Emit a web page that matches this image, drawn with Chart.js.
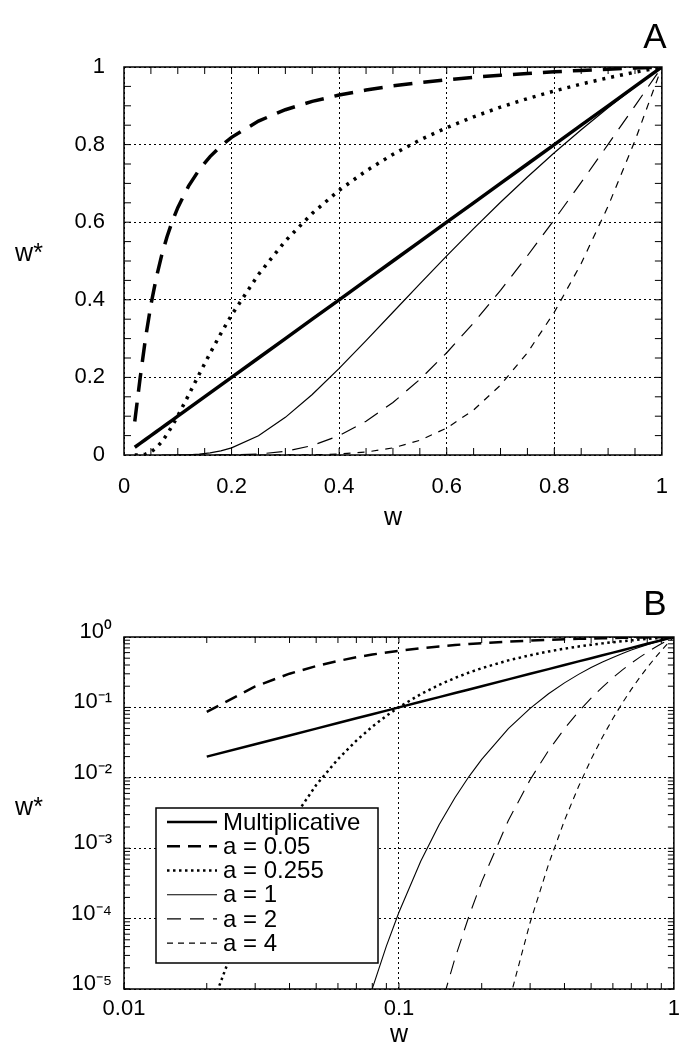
<!DOCTYPE html>
<html>
<head>
<meta charset="utf-8">
<script src="https://cdn.jsdelivr.net/npm/chart.js@4"></script>
<style>
  body { margin: 0; background: #fff; }
  #wrapA { position: absolute; left: 0; top: 0; width: 687px; height: 545px; }
  #wrapB { position: absolute; left: 0; top: 545px; width: 687px; height: 505px; }
</style>
</head>
<body>
<div id="wrapA"><canvas id="chartA"></canvas></div>
<div id="wrapB"><canvas id="chartB"></canvas></div>
<script>
const FONT = '"Liberation Sans", Arial, Helvetica, sans-serif';

// w values shared by every curve
const wValues = [0.02, 0.03, 0.04, 0.05, 0.06, 0.07, 0.08, 0.09, 0.1, 0.12, 0.14, 0.16, 0.18, 0.2,
  0.25, 0.3, 0.35, 0.4, 0.45, 0.5, 0.55, 0.6, 0.65, 0.7, 0.75, 0.8, 0.85, 0.9, 0.95, 1];

// w*
const multiplicative = [0.02, 0.03, 0.04, 0.05, 0.06, 0.07, 0.08, 0.09, 0.1, 0.12, 0.14, 0.16, 0.18, 0.2,
  0.25, 0.3, 0.35, 0.4, 0.45, 0.5, 0.55, 0.6, 0.65, 0.7, 0.75, 0.8, 0.85, 0.9, 0.95, 1];
const a005 = [0.0863, 0.1985, 0.3012, 0.3867, 0.4569, 0.5146, 0.5627, 0.6032, 0.6376, 0.693, 0.7356, 0.7691,
  0.7963, 0.8187, 0.8607, 0.8899, 0.9113, 0.9277, 0.9407, 0.9512, 0.9599, 0.9672, 0.9735, 0.9788, 0.9835,
  0.9876, 0.9912, 0.9945, 0.9974, 1];
const a0255 = [3.7e-6, 2.6e-4, 2.2e-3, 7.9e-3, 0.0184, 0.0338, 0.0533, 0.0759, 0.1008, 0.1541, 0.2088, 0.2622,
  0.313, 0.3606, 0.4653, 0.5516, 0.6228, 0.6822, 0.7322, 0.7749, 0.8117, 0.8437, 0.8717, 0.8965, 0.9185,
  0.9382, 0.956, 0.9721, 0.9867, 1];
const a1 = [null, null, null, null, null, 1.7e-6, 1.01e-5, 4.06e-5, 1.23e-4, 6.53e-4, 2.15e-3, 5.25e-3,
  0.0105, 0.0183, 0.0498, 0.097, 0.1561, 0.2231, 0.2946, 0.3679, 0.4412, 0.5134, 0.5836, 0.6514, 0.7165,
  0.7788, 0.8382, 0.8948, 0.9487, 1];
const a2 = [null, null, null, null, null, null, null, null, null, 4.3e-7, 4.6e-6, 2.75e-5, 1.1e-4, 3.35e-4,
  2.48e-3, 9.4e-3, 0.0244, 0.0498, 0.0868, 0.1353, 0.1947, 0.2636, 0.3406, 0.4244, 0.5134, 0.6065, 0.7026,
  0.8007, 0.9, 1];
const a4 = [null, null, null, null, null, null, null, null, null, null, null, null, null, 1.1e-7, 6.1e-6,
  8.8e-5, 5.9e-4, 2.48e-3, 7.5e-3, 0.0183, 0.0379, 0.0695, 0.116, 0.1801, 0.2636, 0.3679, 0.4936, 0.6412,
  0.81, 1];

const seriesLabels = ['Multiplicative', 'a = 0.05', 'a = 0.255', 'a = 1', 'a = 2', 'a = 4'];
const seriesValues = [multiplicative, a005, a0255, a1, a2, a4];

const xTicksA = [0, 0.2, 0.4, 0.6, 0.8, 1];
const yTicksA = [0, 0.2, 0.4, 0.6, 0.8, 1];
const xTicksB = [0.01, 0.1, 1];
const yTicksB = [1e-5, 1e-4, 1e-3, 1e-2, 1e-1, 1];

function buildDatasets(widths, dashes) {
  return seriesValues.map((vals, i) => ({
    label: seriesLabels[i],
    data: wValues.map((w, j) => ({ x: w, y: vals[j] })),
    borderColor: '#000',
    borderWidth: widths[i],
    borderDash: dashes[i],
    borderCapStyle: 'butt',
    pointRadius: 0,
    tension: 0,
    fill: false
  }));
}

const SUP = { '0': '\u2070', '1': '\u00b9', '2': '\u00b2', '3': '\u00b3', '4': '\u2074', '5': '\u2075', '-': '\u207b' };
function powerLabel(v) {
  const e = String(Math.round(Math.log10(v)));
  return '10' + e.split('').map(c => SUP[c]).join('');
}

// frame, inward minor ticks, panel letter and the horizontal y title
const framePlugin = {
  id: 'frame',
  afterDatasetsDraw(chart, args, o) {
    const { ctx, chartArea: a, scales: { x, y } } = chart;
    ctx.save();
    ctx.setLineDash([]);
    ctx.strokeStyle = '#000';
    ctx.lineWidth = 1;
    ctx.beginPath();
    o.xMinor.forEach(v => {
      const px = x.getPixelForValue(v);
      ctx.moveTo(px, a.bottom); ctx.lineTo(px, a.bottom - o.tick);
      ctx.moveTo(px, a.top); ctx.lineTo(px, a.top + o.tick);
    });
    o.yMinor.forEach(v => {
      const py = y.getPixelForValue(v);
      ctx.moveTo(a.left, py); ctx.lineTo(a.left + o.tick, py);
      ctx.moveTo(a.right, py); ctx.lineTo(a.right - o.tick, py);
    });
    ctx.stroke();
    ctx.lineWidth = 1.5;
    ctx.strokeRect(a.left, a.top, a.right - a.left, a.bottom - a.top);
    ctx.fillStyle = '#000';
    ctx.textAlign = 'center';
    ctx.textBaseline = 'middle';
    ctx.font = '35px ' + FONT;
    ctx.fillText(o.letter, o.letterX, o.letterY);
    ctx.font = '25px ' + FONT;
    ctx.fillText('w*', o.yTitleX, o.yTitleY);
    ctx.restore();
  }
};

// boxed legend drawn inside the log panel
const boxLegend = {
  id: 'boxLegend',
  afterDraw(chart, args, o) {
    const { ctx, chartArea: a } = chart;
    const x0 = a.left + o.dx, y0 = a.top + o.dy;
    ctx.save();
    ctx.fillStyle = '#fff';
    ctx.fillRect(x0, y0, o.w, o.h);
    ctx.strokeStyle = '#000';
    ctx.lineWidth = 1.5;
    ctx.setLineDash([]);
    ctx.strokeRect(x0, y0, o.w, o.h);
    ctx.font = '24px ' + FONT;
    ctx.textBaseline = 'middle';
    ctx.textAlign = 'left';
    ctx.fillStyle = '#000';
    chart.data.datasets.forEach((ds, i) => {
      const cy = y0 + o.pad + o.row * (i + 0.5);
      ctx.setLineDash(ds.borderDash || []);
      ctx.lineWidth = ds.borderWidth;
      ctx.beginPath();
      ctx.moveTo(x0 + 11, cy);
      ctx.lineTo(x0 + 61, cy);
      ctx.stroke();
      ctx.setLineDash([]);
      ctx.fillText(ds.label, x0 + 67, cy + 1);
    });
    ctx.restore();
  }
};

const minorLin = [];
for (let v = 0.05; v < 1; v += 0.05) minorLin.push(Math.round(v * 100) / 100);
const minorLogX = [], minorLogY = [];
for (let d = -2; d < 0; d++) for (let m = 1; m <= 9; m++) minorLogX.push(m * Math.pow(10, d));
for (let d = -5; d < 0; d++) for (let m = 1; m <= 9; m++) minorLogY.push(m * Math.pow(10, d));

const gridOpts = { color: '#000', lineWidth: 1, drawTicks: false };
const borderOpts = { display: false, dash: [2, 3] };
const tickFont = { family: FONT, size: 22 };
const titleFont = { family: FONT, size: 25 };

new Chart(document.getElementById('chartA'), {
  type: 'line',
  data: { datasets: buildDatasets([3.5, 3.5, 3.5, 1.2, 1.2, 1.2],
    [[], [19, 11], [3, 6], [], [16, 10], [7, 7]]) },
  options: {
    responsive: true,
    maintainAspectRatio: false,
    animation: false,
    layout: { padding: { top: 67, right: 12, left: 0, bottom: 0 } },
    scales: {
      x: {
        type: 'linear', min: 0, max: 1,
        afterBuildTicks: s => { s.ticks = xTicksA.map(v => ({ value: v })); },
        afterFit: s => { s.height = 90; },
        ticks: { color: '#000', font: tickFont, padding: 19, maxRotation: 0, autoSkip: false,
          callback: v => String(v) },
        grid: gridOpts, border: borderOpts,
        title: { display: true, text: 'w', color: '#000', font: titleFont,
          padding: { top: 0, bottom: 12 } }
      },
      y: {
        type: 'linear', min: 0, max: 1,
        afterBuildTicks: s => { s.ticks = yTicksA.map(v => ({ value: v })); },
        afterFit: s => { s.width = 124; },
        ticks: { color: '#000', font: tickFont, padding: 19, autoSkip: false, callback: v => String(v) },
        grid: gridOpts, border: borderOpts
      }
    },
    plugins: {
      legend: { display: false },
      tooltip: { enabled: false },
      frame: { xMinor: minorLin, yMinor: minorLin, tick: 7, letter: 'A', letterX: 655, letterY: 38,
        yTitleX: 29, yTitleY: 254 }
    }
  },
  plugins: [framePlugin]
});

new Chart(document.getElementById('chartB'), {
  type: 'line',
  data: { datasets: buildDatasets([2.5, 2.5, 2.5, 1.1, 1.1, 1.1],
    [[], [13, 8], [2.5, 3.5], [], [14, 9], [6, 5]]) },
  options: {
    responsive: true,
    maintainAspectRatio: false,
    animation: false,
    layout: { padding: { top: 92, right: 12, left: 0, bottom: 0 } },
    scales: {
      x: {
        type: 'logarithmic', min: 0.01, max: 1,
        afterBuildTicks: s => { s.ticks = xTicksB.map(v => ({ value: v })); },
        afterFit: s => { s.height = 61; },
        ticks: { color: '#000', font: tickFont, padding: 7, maxRotation: 0, autoSkip: false,
          callback: v => String(v) },
        grid: gridOpts, border: borderOpts,
        title: { display: true, text: 'w', color: '#000', font: titleFont,
          padding: { top: 0, bottom: 0 } }
      },
      y: {
        type: 'logarithmic', min: 1e-5, max: 1,
        afterBuildTicks: s => { s.ticks = yTicksB.map(v => ({ value: v })); },
        afterFit: s => { s.width = 124; },
        ticks: { color: '#000', font: tickFont, padding: 12, labelOffset: -5, autoSkip: false,
          callback: v => powerLabel(v) },
        grid: gridOpts, border: borderOpts
      }
    },
    plugins: {
      legend: { display: false },
      tooltip: { enabled: false },
      frame: { xMinor: minorLogX, yMinor: minorLogY, tick: 6, letter: 'B', letterX: 655, letterY: 60,
        yTitleX: 29, yTitleY: 263 },
      boxLegend: { dx: 32, dy: 171, w: 222, h: 155, pad: 2, row: 24.2 }
    }
  },
  plugins: [framePlugin, boxLegend]
});
</script>
</body>
</html>
